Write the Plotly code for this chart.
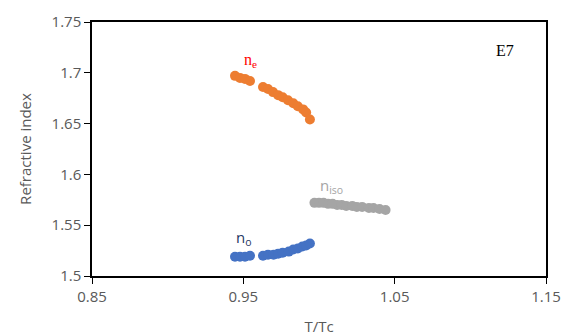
import plotly.graph_objects as go

ne_t = [0.9445, 0.9478, 0.9511, 0.9544, 0.9630, 0.9663, 0.9696, 0.9730, 0.9760, 0.9795, 0.9830, 0.9860, 0.9895, 0.9915, 0.9940]
ne_n = [1.697, 1.695, 1.694, 1.692, 1.686, 1.684, 1.681, 1.678, 1.676, 1.673, 1.670, 1.667, 1.664, 1.661, 1.654]

no_t = [0.9445, 0.9478, 0.9511, 0.9544, 0.9630, 0.9663, 0.9700, 0.9730, 0.9760, 0.9800, 0.9830, 0.9860, 0.9890, 0.9915, 0.9940]
no_n = [1.519, 1.519, 1.519, 1.520, 1.520, 1.521, 1.521, 1.522, 1.523, 1.524, 1.526, 1.527, 1.529, 1.530, 1.532]

niso_t = [0.997, 1.000, 1.003, 1.006, 1.009, 1.012, 1.015, 1.018, 1.022, 1.025, 1.0285, 1.033, 1.036, 1.040, 1.044]
niso_n = [1.572, 1.572, 1.572, 1.571, 1.571, 1.570, 1.570, 1.569, 1.569, 1.568, 1.568, 1.567, 1.567, 1.566, 1.565]

x_ticks = [0.85, 0.95, 1.05, 1.15]
y_ticks = [1.5, 1.55, 1.6, 1.65, 1.7, 1.75]

fig = go.Figure()
for t, n, c in [(ne_t, ne_n, "#ED7D31"), (no_t, no_n, "#4472C4"), (niso_t, niso_n, "#A5A5A5")]:
    fig.add_trace(go.Scatter(x=t, y=n, mode="markers",
                             marker=dict(size=10, color=c, line=dict(width=0)),
                             showlegend=False, cliponaxis=False))

fig.update_layout(
    width=563, height=336,
    margin=dict(l=92, r=17, t=22, b=60),
    plot_bgcolor="white", paper_bgcolor="white",
    font=dict(family="Open Sans, Liberation Sans, sans-serif", size=15, color="#595959"),
)
fig.update_xaxes(range=[0.85, 1.15], tickvals=x_ticks, ticktext=["0.85", "0.95", "1.05", "1.15"],
                 showgrid=False, zeroline=False, showline=True, linecolor="black", linewidth=1.5,
                 mirror=True, ticks="outside", ticklen=6, tickcolor="black", automargin=False,
                 title=dict(text="T/Tc", font=dict(size=15), standoff=18))
fig.update_yaxes(range=[1.5, 1.75], tickvals=y_ticks, ticktext=["1.5", "1.55", "1.6", "1.65", "1.7", "1.75"],
                 showgrid=False, zeroline=False, showline=True, linecolor="black", linewidth=1.5,
                 mirror=True, ticks="outside", ticklen=6, tickcolor="black", automargin=False,
                 title=dict(text="Refractive index", font=dict(size=15), standoff=16))

fig.add_annotation(x=0.955, y=1.712, text="n<sub>e</sub>", showarrow=False,
                   font=dict(family="Liberation Serif, serif", size=16, color="#FF0000"))
fig.add_annotation(x=0.9505, y=1.537, text="n<sub>o</sub>", showarrow=False,
                   font=dict(family="Open Sans, sans-serif", size=15, color="#1F3864"))
fig.add_annotation(x=1.008, y=1.589, text="n<sub>iso</sub>", showarrow=False,
                   font=dict(family="Open Sans, sans-serif", size=15, color="#A5A5A5"))
fig.add_annotation(x=1.123, y=1.722, text="E7", showarrow=False,
                   font=dict(family="Liberation Serif, serif", size=16, color="black"))

fig.write_html("out.html", config={"displayModeBar": False},
               post_script="document.body.style.margin='0px';document.body.style.overflow='hidden';")
